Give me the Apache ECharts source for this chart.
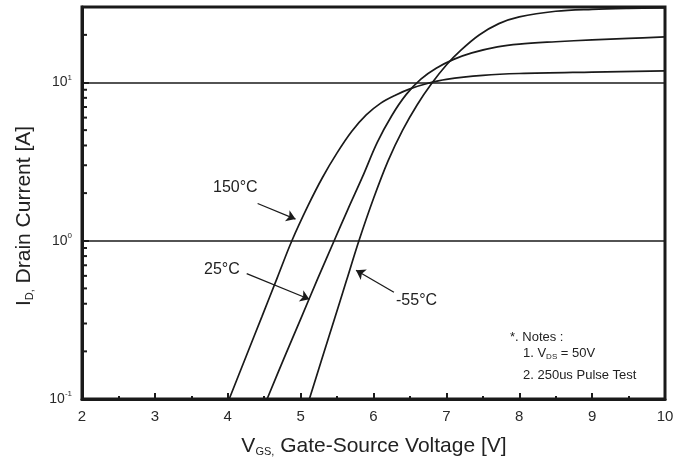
<!DOCTYPE html>
<html><head><meta charset="utf-8">
<script src="https://cdn.jsdelivr.net/npm/echarts@6/dist/echarts.min.js"></script>
<style>html,body{margin:0;padding:0;background:#fff}#c{width:692px;height:465px}</style>
</head><body><div id="c"></div>
<script>
// Gate-source voltage (V) and drain current (A)
const v150 = [4.02, 4.25, 4.47, 4.68, 4.88, 5.1, 5.3, 5.5, 5.7, 5.9, 6.1, 6.3, 6.5, 6.75, 7.0, 7.5, 8.0, 9.0, 10.0];
const i150 = [0.1, 0.185, 0.333, 0.585, 1.0, 1.66, 2.51, 3.59, 4.9, 6.24, 7.41, 8.32, 9.12, 9.89, 10.47, 11.09, 11.4, 11.64, 11.83];
const v25 = [4.54, 4.77, 5.0, 5.23, 5.46, 5.65, 5.85, 6.05, 6.25, 6.45, 6.65, 6.86, 7.1, 7.35, 7.7, 8.0, 8.5, 9.0, 9.5, 10.0];
const i25 = [0.1, 0.18, 0.32, 0.57, 1.0, 1.585, 2.54, 4.17, 6.17, 8.41, 10.5, 12.3, 14.0, 15.4, 16.8, 17.5, 18.1, 18.6, 19.0, 19.4];
const vm55 = [5.12, 5.3, 5.46, 5.63, 5.8, 6.0, 6.2, 6.4, 6.6, 6.8, 7.0, 7.2, 7.45, 7.72, 8.0, 8.5, 9.0, 9.5, 10.0];
const im55 = [0.1, 0.184, 0.316, 0.562, 1.0, 1.85, 3.2, 5.0, 7.24, 9.89, 12.9, 16.0, 19.95, 23.55, 26.0, 28.2, 29.0, 29.4, 29.6];
const seriesNames = ['150°C', '25°C', '-55°C'];
const yMinorTicks = [0.2, 0.3, 0.4, 0.5, 0.6, 0.7, 0.8, 0.9, 2, 3, 4, 5, 6, 7, 8, 9, 20];
// annotation arrows: [tail, head] in data coordinates
const arrow150 = [[4.41, 1.72], [4.93, 1.37]];
const arrow25 = [[4.26, 0.62], [5.12, 0.427]];
const arrowM55 = [[6.28, 0.473], [5.76, 0.651]];

const FONT = 'Liberation Sans, Arial, sans-serif';
const INK = '#1a1a1a';
const zip = (a, b) => a.map((v, k) => [v, b[k]]);
const chart = echarts.init(document.getElementById('c'), null, {renderer: 'canvas'});
const curveStyle = {color: INK, width: 1.7};
const arrowLine = (pair) => [{coord: pair[0]}, {coord: pair[1]}];

const option = {
  backgroundColor: '#fff',
  animation: false,
  grid: {left: 82, right: 27, top: 7, bottom: 66, show: true, borderColor: INK, borderWidth: 3, backgroundColor: 'transparent'},
  xAxis: {
    type: 'value', min: 2, max: 10, interval: 1,
    axisLine: {lineStyle: {color: INK, width: 3}},
    axisTick: {inside: true, length: 6, lineStyle: {color: INK, width: 2}},
    minorTick: {show: true, splitNumber: 2, length: 3, lineStyle: {color: INK, width: 2}},
    splitLine: {show: false},
    axisLabel: {fontFamily: FONT, fontSize: 15, color: '#2a2a2a', margin: 10}
  },
  yAxis: {
    type: 'log', logBase: 10, min: 0.1, max: 30,
    axisLine: {lineStyle: {color: INK, width: 3}},
    axisTick: {inside: true, length: 7, lineStyle: {color: INK, width: 2}},
    splitLine: {show: true, lineStyle: {color: INK, width: 1.5}},
    axisLabel: {
      margin: 10,
      formatter: function (v) {
        const e = Math.round(Math.log10(v));
        if (Math.abs(v - Math.pow(10, e)) > 1e-9 * Math.max(1, v)) return '';
        return '{b|10}{s|' + e + '}';
      },
      rich: {
        b: {fontFamily: FONT, fontSize: 14, color: '#2a2a2a'},
        s: {fontFamily: FONT, fontSize: 8, color: '#2a2a2a', padding: [0, 0, 10, 0]}
      }
    }
  },
  series: [
    {
      type: 'line', name: seriesNames[0], data: zip(v150, i150), smooth: 0.35,
      symbol: 'none', lineStyle: curveStyle, z: 3,
      markLine: {
        silent: true, symbol: ['none', 'arrow'], symbolSize: 9, animation: false,
        label: {show: false},
        lineStyle: {type: 'solid', color: INK, width: 1.3},
        data: [arrowLine(arrow150), arrowLine(arrow25), arrowLine(arrowM55)]
      }
    },
    {type: 'line', name: seriesNames[1], data: zip(v25, i25), smooth: 0.35, symbol: 'none', lineStyle: curveStyle, z: 3},
    {type: 'line', name: seriesNames[2], data: zip(vm55, im55), smooth: 0.35, symbol: 'none', lineStyle: curveStyle, z: 3},
    {
      type: 'custom', silent: true, z: 5,
      data: yMinorTicks.map(v => [2, v]),
      renderItem: function (params, api) {
        const p = api.coord([api.value(0), api.value(1)]);
        return {type: 'line', shape: {x1: p[0], y1: p[1], x2: p[0] + 5, y2: p[1]}, style: {stroke: INK, lineWidth: 2}};
      }
    }
  ],
  graphic: [
    {type: 'text', left: 213, top: 180, style: {text: seriesNames[0], font: '16px ' + FONT, fill: '#222'}},
    {type: 'text', left: 204, top: 262, style: {text: seriesNames[1], font: '16px ' + FONT, fill: '#222'}},
    {type: 'text', left: 396, top: 293, style: {text: seriesNames[2], font: '16px ' + FONT, fill: '#222'}},
    {type: 'text', left: 510, top: 331, style: {text: '*. Notes :', font: '13px ' + FONT, fill: '#222'}},
    {type: 'text', left: 523, top: 347, style: {
      text: '{a|1. V}{s|DS}{a| = 50V}',
      rich: {a: {fontFamily: FONT, fontSize: 13, fill: '#222'}, s: {fontFamily: FONT, fontSize: 8, fill: '#222', padding: [7, 0, 0, 0]}}
    }},
    {type: 'text', left: 523, top: 369, style: {text: '2. 250us Pulse Test', font: '13px ' + FONT, fill: '#222'}},
    {type: 'text', x: 374, y: 446, style: {
      text: '{a|V}{s|GS,}{a| Gate-Source Voltage [V]}', align: 'center', verticalAlign: 'middle',
      rich: {a: {fontFamily: FONT, fontSize: 21, fill: '#222'}, s: {fontFamily: FONT, fontSize: 11, fill: '#222', padding: [12, 0, 0, 0]}}
    }},
    {type: 'text', x: 24, y: 216, rotation: Math.PI / 2, style: {
      text: '{a|I}{s|D,}{a| Drain Current [A]}', align: 'center', verticalAlign: 'middle',
      rich: {a: {fontFamily: FONT, fontSize: 21, fill: '#222'}, s: {fontFamily: FONT, fontSize: 11, fill: '#222', padding: [12, 0, 0, 0]}}
    }}
  ]
};
chart.setOption(option);
</script>
</body></html>
